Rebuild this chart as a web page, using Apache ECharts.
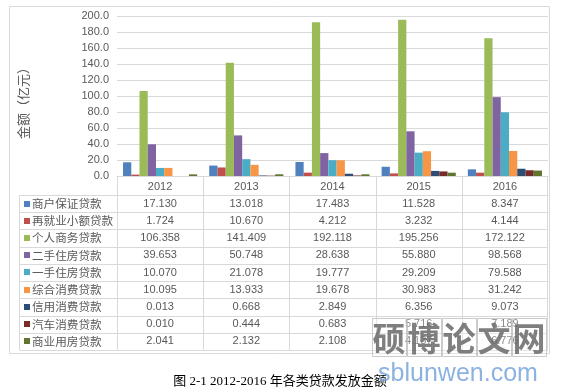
<!DOCTYPE html>
<html><head><meta charset="utf-8">
<script src="https://cdn.jsdelivr.net/npm/echarts@6/dist/echarts.min.js"></script>
<style>html,body{margin:0;padding:0;background:#fff}#c{width:561px;height:392px}</style>
</head><body><div id="c"></div>
<script>
var categories = ['2012','2013','2014','2015','2016'];
var seriesNames = ['商户保证贷款','再就业小额贷款','个人商务贷款','二手住房贷款','一手住房贷款','综合消费贷款','信用消费贷款','汽车消费贷款','商业用房贷款'];
var merchantGuarantee = [17.130, 13.018, 17.483, 11.528, 8.347];
var reemploymentSmall = [1.724, 10.670, 4.212, 3.232, 4.144];
var personalBusiness = [106.358, 141.409, 192.118, 195.256, 172.122];
var secondHandHousing = [39.653, 50.748, 28.638, 55.880, 98.568];
var firstHandHousing = [10.070, 21.078, 19.777, 29.209, 79.588];
var generalConsumer = [10.095, 13.933, 19.678, 30.983, 31.242];
var creditConsumer = [0.013, 0.668, 2.849, 6.356, 9.073];
var autoConsumer = [0.010, 0.444, 0.683, 5.716, 7.189];
var commercialProperty = [2.041, 2.132, 2.108, 4.137, 6.776];
var yTicks = ['0.0','20.0','40.0','60.0','80.0','100.0','120.0','140.0','160.0','180.0','200.0'];

var allData = [merchantGuarantee, reemploymentSmall, personalBusiness, secondHandHousing, firstHandHousing, generalConsumer, creditConsumer, autoConsumer, commercialProperty];
var colors = ['#4F81BD','#C0504D','#9BBB59','#8064A2','#4BACC6','#F79646','#2C4D75','#772C2A','#5F7530'];
var gridColor = '#D9D9D9';
var textColor = '#595959';

var chart = echarts.init(document.getElementById('c'));
var series = seriesNames.map(function(n, i){
  return {name:n, type:'bar', data: allData[i], barGap:'0%', barCategoryGap:'14%',
    itemStyle:{color:colors[i]}, emphasis:{disabled:true}};
});
chart.setOption({
  animation:false,
  backgroundColor:'#fff',
  color: colors,
  grid:{left:117, right:13, top:16, bottom:216, containLabel:false},
  xAxis:{type:'category', data:categories,
    axisLine:{lineStyle:{color:gridColor}},
    axisTick:{show:false},
    axisLabel:{color:textColor, fontSize:11, fontFamily:'Liberation Sans', margin:5}},
  yAxis:{type:'value', min:0, max:200, interval:20,
    axisLine:{show:false}, axisTick:{show:false},
    splitLine:{lineStyle:{color:gridColor}},
    axisLabel:{color:textColor, fontSize:11, fontFamily:'Liberation Sans', margin:8,
      formatter:function(v){ return yTicks[Math.round(v/20)]; }}},
  series: series
});

// Build the data table below the plot
var xs = categories.map(function(c){ return chart.convertToPixel({xAxisIndex:0}, c); });
var colW = xs[1]-xs[0];
var tableRight = xs[xs.length-1] + colW/2 - 1;
var axisY = chart.convertToPixel({yAxisIndex:0}, 0);
var headerBottom = axisY + 19;
var rowH = 17.22;
var tableLeft = 19.5;
var g = [];
// frame
g.push({type:'rect', shape:{x:9.5, y:6.5, width:540, height:347}, style:{fill:'none', stroke:gridColor, lineWidth:1}, z:-1});
// vertical lines
var nRows = seriesNames.length;
var tableBottom = headerBottom + nRows*rowH;
for (var k=0; k<=categories.length; k++){
  var vx = Math.round(xs[0] - colW/2 + k*colW) + 0.5;
  if (k===categories.length) vx = Math.round(tableRight)+0.5;
  g.push({type:'line', shape:{x1:vx, y1:axisY, x2:vx, y2:tableBottom}, style:{stroke:gridColor, lineWidth:1}});
}
g.push({type:'line', shape:{x1:tableLeft, y1:headerBottom, x2:tableLeft, y2:tableBottom}, style:{stroke:gridColor, lineWidth:1}});
for (var r=0; r<=nRows; r++){
  var hy = Math.round(headerBottom + r*rowH) + 0.5;
  g.push({type:'line', shape:{x1:tableLeft, y1:hy, x2:Math.round(tableRight)+0.5, y2:hy}, style:{stroke:gridColor, lineWidth:1}});
}
for (var i=0; i<nRows; i++){
  var cy = headerBottom + (i+0.5)*rowH;
  g.push({type:'rect', shape:{x:24, y:Math.round(cy)-3, width:6, height:6}, style:{fill:colors[i]}});
  g.push({type:'text', x:32, y:cy, style:{text:seriesNames[i], fill:textColor, font:'11.6px "Noto Sans CJK SC"', textVerticalAlign:'middle', textAlign:'left'}});
  for (var j=0; j<categories.length; j++){
    g.push({type:'text', x:xs[j], y:cy, style:{text:allData[i][j].toFixed(3), fill:textColor, font:'11px "Liberation Sans"', textAlign:'center', textVerticalAlign:'middle'}});
  }
}
// axis title
g.push({type:'text', x:23, y:100, rotation:Math.PI/2, style:{text:'金额（亿元）', fill:textColor, font:'13px "Noto Sans CJK SC"', textAlign:'center', textVerticalAlign:'middle'}});
// caption
g.push({type:'text', x:280, y:382, style:{text:'图 2-1 2012-2016 年各类贷款发放金额', fill:'#000', font:'13px "Liberation Serif", "Noto Sans CJK SC"', textAlign:'center', textVerticalAlign:'middle'}});
// watermark
var wmChars = ['硕','博','论','文','网'];
for (var w=0; w<wmChars.length; w++){
  var wx = 372 + w*35;
  g.push({type:'rect', shape:{x:wx+0.5, y:318.5, width:34, height:38}, style:{fill:'rgba(255,255,255,0.3)', stroke:'rgba(190,190,190,0.8)', lineWidth:1}, z:10});
  g.push({type:'text', x:wx+17, y:338, style:{text:wmChars[w], fill:'rgba(105,105,105,0.85)', font:'bold 33px "Noto Sans CJK SC"', textAlign:'center', textVerticalAlign:'middle'}, z:11});
}
g.push({type:'text', x:458, y:374, style:{text:'sblunwen.com', fill:'rgba(120,165,220,0.85)', font:'25px "Liberation Sans"', textAlign:'center', textVerticalAlign:'middle'}, z:10});
chart.setOption({graphic: g});
</script></body></html>
